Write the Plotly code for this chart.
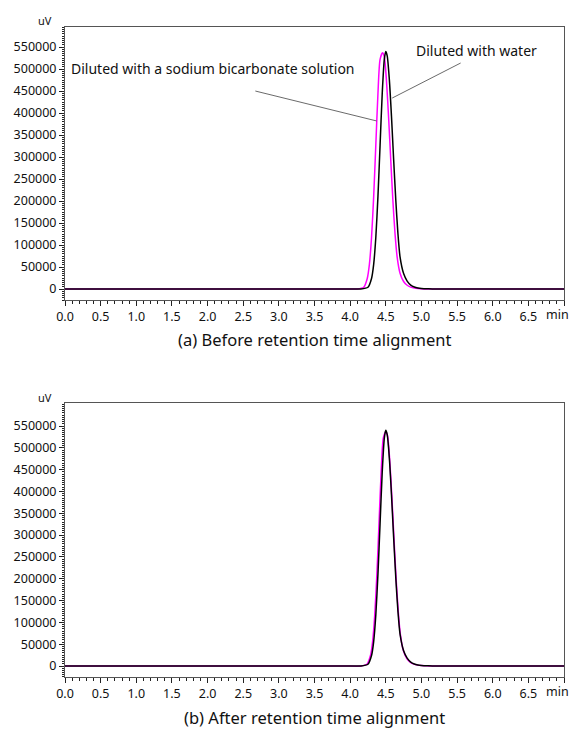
import plotly.graph_objects as go
from plotly.subplots import make_subplots

# ---- data ----
time_water = [0.0, 1.0, 2.0, 3.0, 3.6, 4.0, 4.15, 4.25, 4.30, 4.33, 4.36, 4.39, 4.42, 4.45, 4.48,
              4.50, 4.52, 4.55, 4.58, 4.61, 4.64, 4.67, 4.70, 4.75, 4.80, 4.85, 4.90, 4.95, 5.00,
              5.10, 5.20, 5.40, 5.70, 6.20, 7.00]
signal_water = [0, 0, 0, 0, 0, 0, 0, 4000, 24000, 56000, 117000, 210000, 327000, 444000, 523000,
                540000, 530000, 476000, 392000, 295000, 203000, 127000, 73000, 35000, 18000,
                9000, 4500, 2200, 1000, 300, 0, 0, 0, 0, 0]

time_bicarb = [0.0, 1.0, 2.0, 3.0, 3.6, 3.95, 4.10, 4.19, 4.24, 4.27, 4.30, 4.33, 4.36, 4.39, 4.42,
               4.455, 4.48, 4.51, 4.54, 4.57, 4.60, 4.63, 4.66, 4.70, 4.75, 4.80, 4.85, 4.90,
               4.95, 5.05, 5.15, 5.35, 5.70, 6.20, 7.00]
signal_bicarb = [0, 0, 0, 0, 0, 0, 0, 4000, 24000, 56000, 117000, 210000, 327000, 444000, 522000,
                 537000, 527000, 472000, 388000, 292000, 200000, 125000, 72000, 36000, 17000,
                 8500, 4200, 2000, 900, 250, 0, 0, 0, 0, 0]

# retention-time shift applied to the bicarbonate run in panel (b)
alignment_shift = 0.045
time_bicarb_aligned = [t + alignment_shift if 4.0 < t < 5.5 else t for t in time_bicarb]

x_tickvals = [0.0, 0.5, 1.0, 1.5, 2.0, 2.5, 3.0, 3.5, 4.0, 4.5, 5.0, 5.5, 6.0, 6.5, 7.0]
x_ticktext = ["0.0", "0.5", "1.0", "1.5", "2.0", "2.5", "3.0", "3.5", "4.0", "4.5", "5.0",
              "5.5", "6.0", "6.5", ""]
x_unit = "min"
y_tickvals = [0, 50000, 100000, 150000, 200000, 250000, 300000, 350000, 400000, 450000,
              500000, 550000]
y_ticktext = [str(v) for v in y_tickvals]
y_unit = "uV"

label_bicarb = "Diluted with a sodium bicarbonate solution"
label_water = "Diluted with water"
title_a = "(a) Before retention time alignment"
title_b = "(b) After retention time alignment"

MAGENTA = "#ff00ff"
BLACK = "#000000"
FONT = "Noto Sans"
H = 731
W = 571

fig = make_subplots(rows=2, cols=1)

line_kw = dict(shape="spline", smoothing=0.7, width=1.5)
fig.add_trace(go.Scatter(x=time_bicarb, y=signal_bicarb, mode="lines",
                         line=dict(color=MAGENTA, **line_kw), name=label_bicarb), 1, 1)
fig.add_trace(go.Scatter(x=time_water, y=signal_water, mode="lines",
                         line=dict(color=BLACK, **line_kw), name=label_water), 1, 1)
fig.add_trace(go.Scatter(x=time_bicarb_aligned, y=signal_bicarb, mode="lines",
                         line=dict(color=MAGENTA, **line_kw), name=label_bicarb), 2, 1)
fig.add_trace(go.Scatter(x=time_water, y=signal_water, mode="lines",
                         line=dict(color=BLACK, **line_kw), name=label_water), 2, 1)

tick_font = dict(family=FONT, size=12.5, color="#111")
xax = dict(range=[0, 7], tickmode="array", tickvals=x_tickvals, ticktext=x_ticktext,
           ticks="outside", ticklen=5, tickcolor="#222", showgrid=False, zeroline=False,
           showline=True, linecolor="#555", linewidth=1, mirror=True, automargin=False,
           minor=dict(dtick=0.1, ticks="outside", ticklen=3, tickcolor="#222"),
           tickfont=tick_font)
yax = dict(tickmode="array", tickvals=y_tickvals, ticktext=y_ticktext,
           ticks="outside", ticklen=5, tickcolor="#222", showgrid=False, zeroline=False,
           showline=True, linecolor="#555", linewidth=1, mirror=True, automargin=False,
           minor=dict(dtick=5000, ticks="outside", ticklen=2, tickcolor="#222"),
           tickfont=tick_font)

fig.update_layout(
    width=W, height=H, plot_bgcolor="white", paper_bgcolor="white",
    showlegend=False, margin=dict(l=65, r=7, t=0, b=0),
    xaxis=dict(xax, domain=[0, 1]),
    xaxis2=dict(xax, domain=[0, 1]),
    yaxis=dict(yax, range=[-25000, 595500], domain=[1 - 300 / H, 1 - 27 / H]),
    yaxis2=dict(yax, range=[-25200, 602700], domain=[1 - 677 / H, 1 - 403 / H]),
)

plot_w = W - 65 - 7
ann_font = dict(family=FONT, size=14, color="#111")
title_font = dict(family=FONT, size=16.5, color="#111")
annotations = [
    dict(text=label_bicarb, x=0.05, y=502000, xref="x", yref="y", xanchor="left",
         yanchor="middle", showarrow=False, font=ann_font),
    dict(text=label_water, x=5.77, y=541000, xref="x", yref="y", xanchor="center",
         yanchor="middle", showarrow=False, font=ann_font),
    dict(text=y_unit, x=-0.04, y=1 - 21 / H, xref="paper", yref="paper", xanchor="center",
         yanchor="middle", showarrow=False, font=dict(family=FONT, size=11, color="#111")),
    dict(text=y_unit, x=-0.04, y=1 - 397 / H, xref="paper", yref="paper", xanchor="center",
         yanchor="middle", showarrow=False, font=dict(family=FONT, size=11, color="#111")),
    dict(text=x_unit, x=1 + 6.5 / plot_w, y=1 - 314 / H, xref="paper", yref="paper",
         xanchor="right", yanchor="middle", showarrow=False, font=tick_font),
    dict(text=x_unit, x=1 + 6.5 / plot_w, y=1 - 691 / H, xref="paper", yref="paper",
         xanchor="right", yanchor="middle", showarrow=False, font=tick_font),
    dict(text=title_a, x=0.5, y=1 - 339 / H, xref="paper", yref="paper", xanchor="center",
         yanchor="middle", showarrow=False, font=title_font),
    dict(text=title_b, x=0.5, y=1 - 717 / H, xref="paper", yref="paper", xanchor="center",
         yanchor="middle", showarrow=False, font=title_font),
]
fig.update_layout(annotations=annotations)

fig.add_shape(type="line", xref="x", yref="y", x0=2.67, y0=450000, x1=4.37, y1=382000,
              line=dict(color="#444", width=0.8))
fig.add_shape(type="line", xref="x", yref="y", x0=5.55, y0=513600, x1=4.59, y1=434000,
              line=dict(color="#444", width=0.8))

fig.write_html("out.html", config={"displayModeBar": False},
               post_script="document.body.style.margin='0';document.body.style.overflow='hidden';")
